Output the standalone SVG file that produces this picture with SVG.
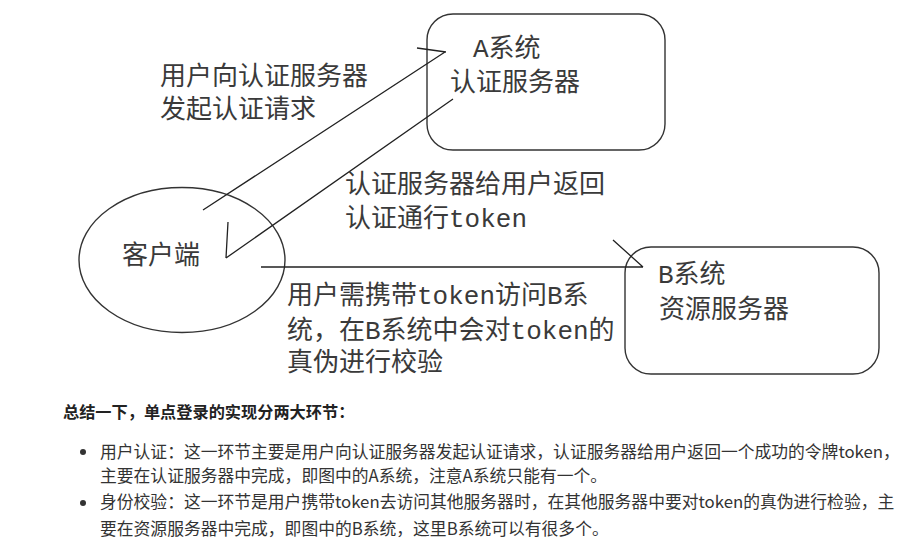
<svg xmlns="http://www.w3.org/2000/svg" width="921" height="543" viewBox="0 0 921 543">
<style>
.bg{fill:#ffffff}
.node{fill:none;stroke:#333;stroke-width:1.4}
.lbl{font-family:"Liberation Mono","Noto Sans CJK SC",monospace;font-size:26px;fill:#3a3a3a}
.conn{fill:none;stroke:#222;stroke-width:1.3}
.sum{font-family:"Noto Sans CJK SC","Noto Sans",sans-serif;font-size:16.8px;fill:#333}
.title{font-family:"Noto Sans CJK SC","Noto Sans",sans-serif;font-size:16.2px;font-weight:bold;fill:#222}
</style>
<rect class="bg" x="0" y="0" width="921" height="543"/>
<g id="serverA">
<rect class="node" x="427" y="14" width="238" height="136" rx="26" ry="26"/>
<text class="lbl" x="473" y="57">A系统</text>
<text class="lbl" x="450" y="91">认证服务器</text>
</g>
<g id="client">
<ellipse class="node" cx="182" cy="260" rx="103" ry="72.5"/>
<text class="lbl" x="122" y="264">客户端</text>
</g>
<g id="serverB">
<rect class="node" x="625" y="247" width="254" height="127" rx="26" ry="26"/>
<text class="lbl" x="658" y="283">B系统</text>
<text class="lbl" x="659" y="318">资源服务器</text>
</g>
<g id="connectors">
<path class="conn" d="M203,210 L445,52 M417,48 L446,52"/>
<path class="conn" d="M453,99 L226,258 M228,222 L226,258"/>
<path class="conn" d="M261,267 L643,267 M613,240 L643,267"/>
</g>
<g id="labels">
<text class="lbl" x="160" y="85">用户向认证服务器</text>
<text class="lbl" x="160" y="118">发起认证请求</text>
<text class="lbl" x="345" y="193">认证服务器给用户返回</text>
<text class="lbl" x="345" y="227">认证通行token</text>
<text class="lbl" x="287" y="304">用户需携带token访问B系</text>
<text class="lbl" x="287" y="339">统，在B系统中会对token的</text>
<text class="lbl" x="287" y="371">真伪进行校验</text>
</g>
<g id="summary">
<text class="title" x="63" y="418">总结一下，单点登录的实现分两大环节：</text>
<circle cx="83" cy="452" r="3" fill="#333"/>
<circle cx="83" cy="503" r="3" fill="#333"/>
<text class="sum" x="100" y="458">用户认证：这一环节主要是用户向认证服务器发起认证请求，认证服务器给用户返回一个成功的令牌token，</text>
<text class="sum" x="100" y="482">主要在认证服务器中完成，即图中的A系统，注意A系统只能有一个。</text>
<text class="sum" x="100" y="508">身份校验：这一环节是用户携带token去访问其他服务器时，在其他服务器中要对token的真伪进行检验，主</text>
<text class="sum" x="100" y="535">要在资源服务器中完成，即图中的B系统，这里B系统可以有很多个。</text>
</g>
</svg>
